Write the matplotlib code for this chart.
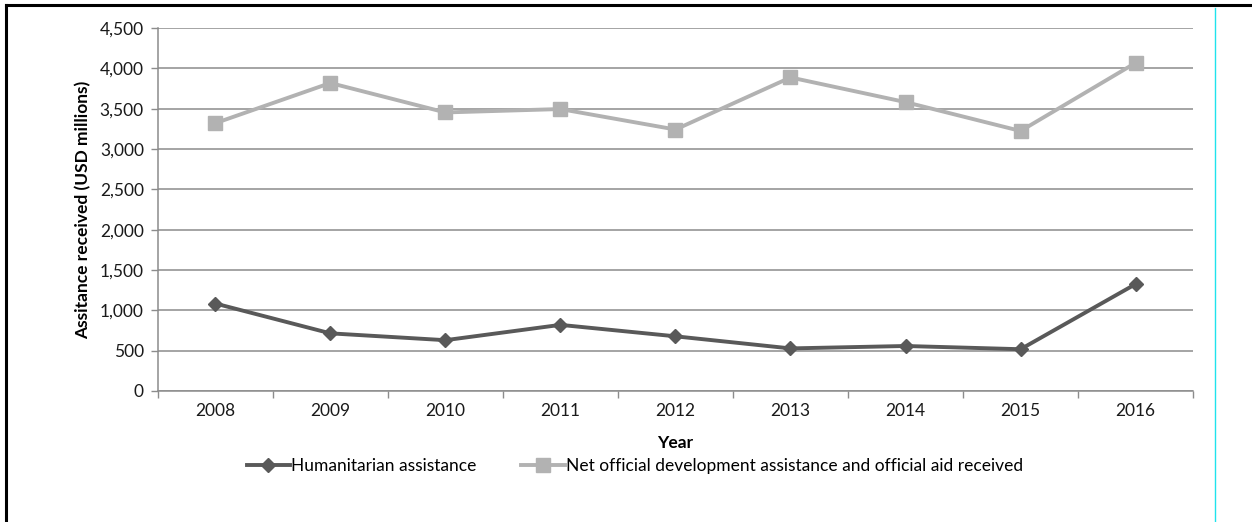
import numpy as np
import matplotlib.pyplot as plt
from matplotlib.lines import Line2D
from matplotlib.ticker import FuncFormatter, MultipleLocator


# ---------------------------------------------------
# Data (USD millions)
# ---------------------------------------------------

years = [2008, 2009, 2010, 2011, 2012, 2013, 2014, 2015, 2016]
humanitarian = [1085, 715, 630, 820, 678, 528, 558, 518, 1326]
net_oda = [3322, 3820, 3455, 3497, 3243, 3889, 3583, 3225, 4070]

series_labels = [
    "Humanitarian assistance",
    "Net official development assistance and official aid received",
]


# ---------------------------------------------------
# Style
# ---------------------------------------------------

plt.rcParams["font.family"] = ["Lato", "DejaVu Sans"]

DARK = "#595959"
LIGHT = "#b2b2b2"
GRID = "#8c8c8c"
FS = 12.5

fig = plt.figure(figsize=(12.52, 5.22), dpi=100)
ax = fig.add_axes([0.126, 0.251, 0.827, 0.695])

ax.plot(years, humanitarian, color=DARK, linewidth=2.8,
        marker="D", markersize=7.5, label=series_labels[0], zorder=3)
ax.plot(years, net_oda, color=LIGHT, linewidth=2.8,
        marker="s", markersize=10, label=series_labels[1], zorder=3)

ax.set_xlim(years[0] - 0.5, years[-1] + 0.5)
ax.set_ylim(0, 4500)

# y axis
ax.yaxis.set_major_locator(MultipleLocator(500))
ax.yaxis.set_major_formatter(FuncFormatter(lambda v, _: f"{int(v):,}"))
ax.grid(axis="y", color=GRID, linewidth=1.1)
ax.set_axisbelow(True)

# x axis: labels at years, tick marks on category boundaries
ax.set_xticks(years)
ax.set_xticks(np.arange(years[0] - 0.5, years[-1] + 1), minor=True)
ax.tick_params(axis="x", which="major", length=0, pad=9)
ax.tick_params(axis="x", which="minor", length=5, color=GRID, width=1)
ax.tick_params(axis="y", length=5, color=GRID, width=1, pad=5)
ax.tick_params(labelsize=FS, labelcolor="#1a1a1a")

for side in ["top", "right"]:
    ax.spines[side].set_visible(False)
for side in ["left", "bottom"]:
    ax.spines[side].set_color(GRID)
    ax.spines[side].set_linewidth(1.1)

ax.set_xlabel("Year", fontsize=12.5, fontweight="bold", labelpad=11)
ax.set_ylabel("Assitance received (USD millions)", fontsize=12.5,
              fontweight="bold", labelpad=6)

fig.legend(loc="center", bbox_to_anchor=(0.507, 0.107), ncol=2,
           frameon=False, fontsize=FS, handlelength=2.5,
           handletextpad=0.05, columnspacing=2.6)

# frame lines around the figure
fig.add_artist(Line2D([0.005, 1.0], [0.99, 0.99], color="black",
                      linewidth=2.2, transform=fig.transFigure))
fig.add_artist(Line2D([0.005, 0.005], [0.0, 0.99], color="black",
                      linewidth=2.2, transform=fig.transFigure))
fig.add_artist(Line2D([0.9705, 0.9705], [0.0, 0.985], color="#1fe3ec",
                      linewidth=1.0, transform=fig.transFigure))

plt.savefig("out.png", dpi=100)
